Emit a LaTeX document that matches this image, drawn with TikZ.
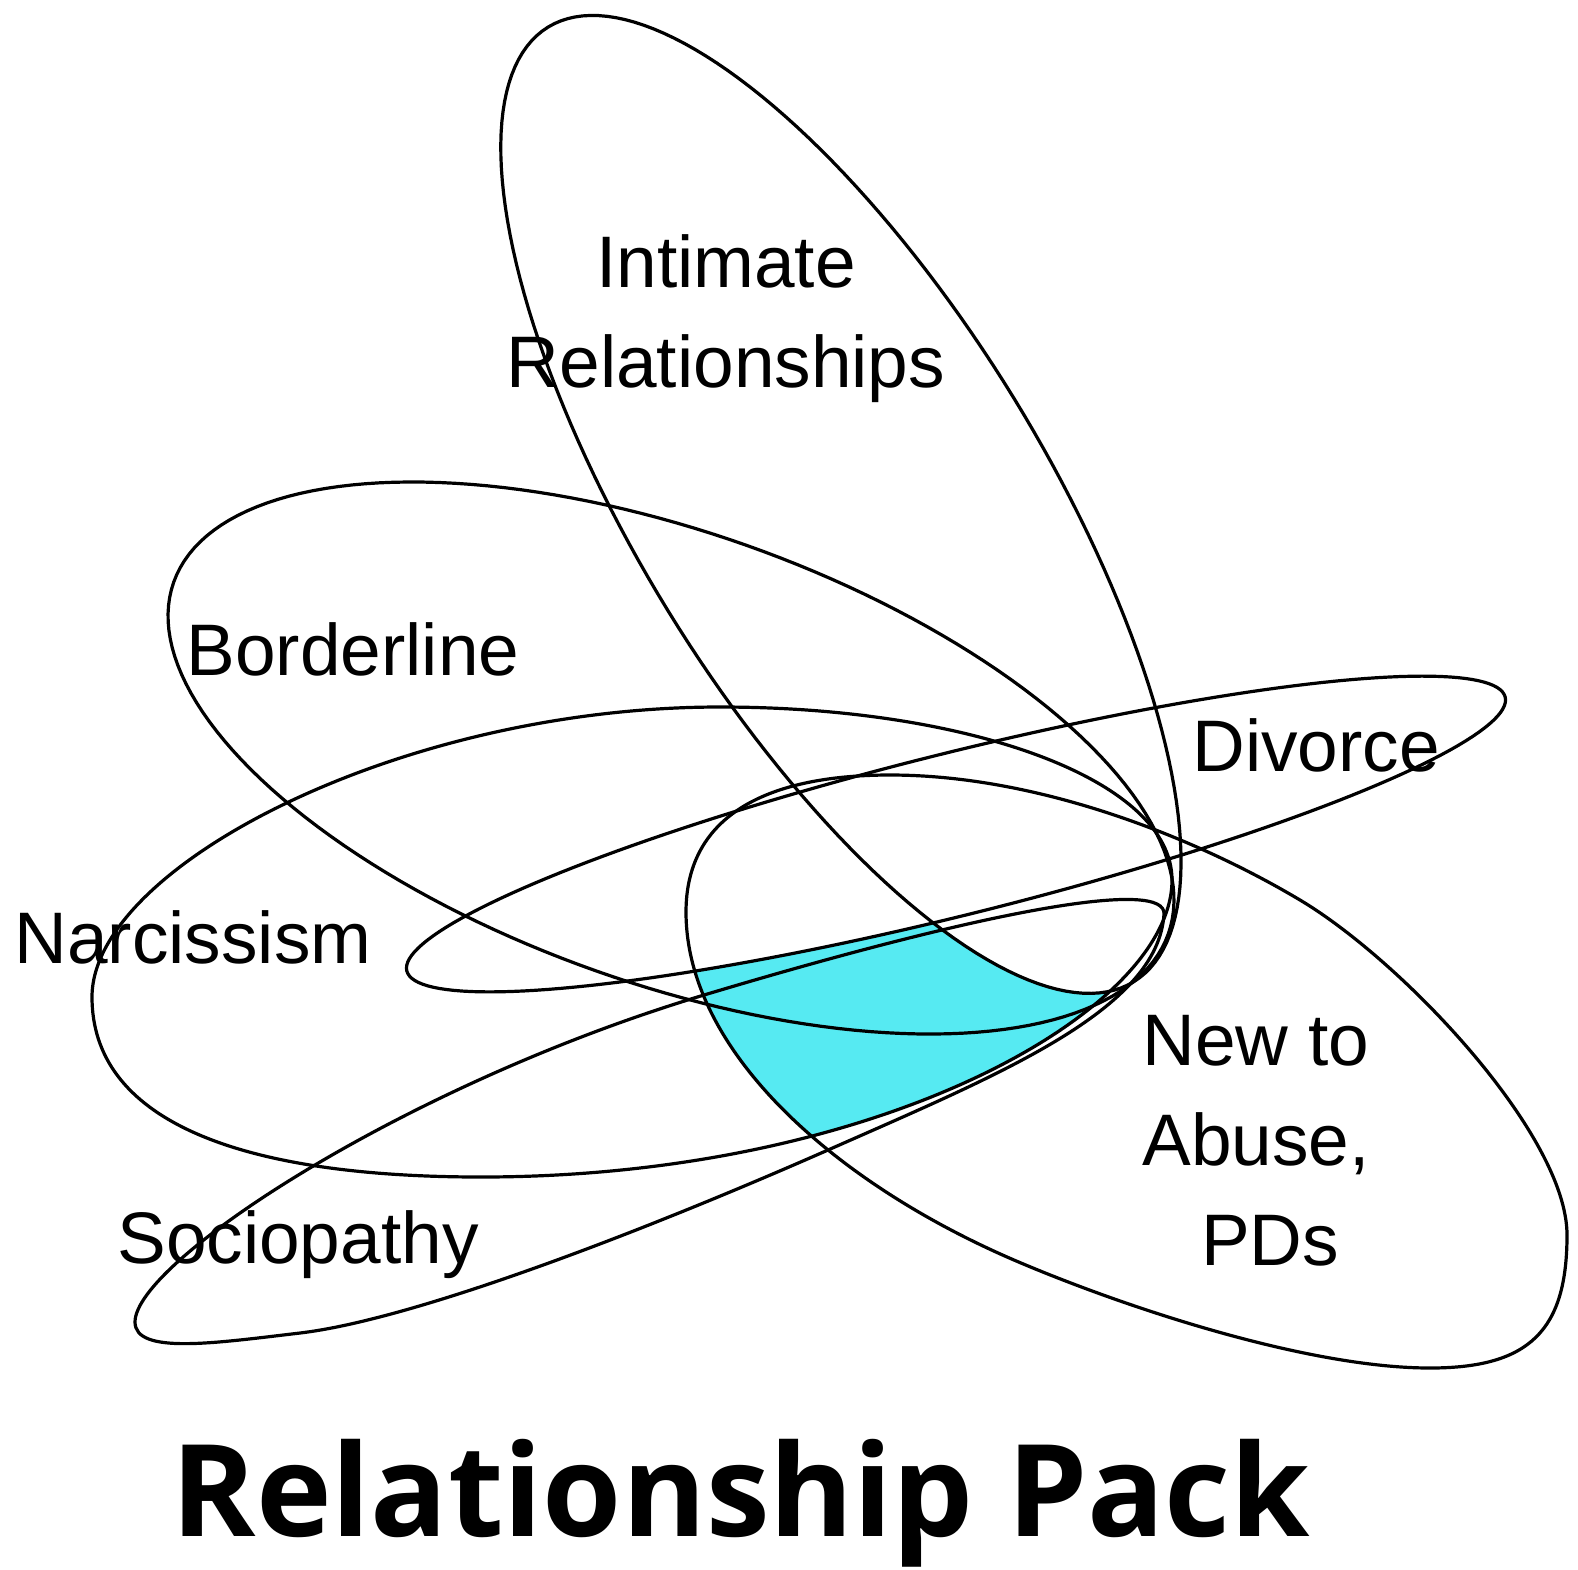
\documentclass[tikz,border=0pt]{standalone}
\usepackage{fontspec}
\newfontfamily\lab{Liberation Sans}
\newfontfamily\ttl{Open Sans}
\definecolor{cyanfill}{RGB}{86,234,242}
% rotated ellipse: cx, cy, a, b, angle (image coords, y down)
\newcommand{\ellp}[5]{plot[domain=0:360,samples=181,variable=\t]({#1+#3*cos(\t)*cos(#5)-#4*sin(\t)*sin(#5)},{#2+#3*cos(\t)*sin(#5)+#4*sin(\t)*cos(#5)}) -- cycle}
% same ellipse traced the other way (used to cut holes)
\newcommand{\ellr}[5]{plot[domain=360:0,samples=181,variable=\t]({#1+#3*cos(\t)*cos(#5)-#4*sin(\t)*sin(#5)},{#2+#3*cos(\t)*sin(#5)+#4*sin(\t)*cos(#5)}) -- cycle}
\def\pI{\ellp{840.9}{504.4}{560}{203}{58.47}}
\def\pB{\ellp{671}{758}{527.5}{225.7}{19.47}}
\def\pD{\ellp{956}{834}{566}{81}{-14}}
\def\pN{(92,997) .. controls (92,867) and (400,707) .. (720,707) .. controls (970,707) and (1172,780) .. (1172,880) .. controls (1172,1010) and (881,1177) .. (481,1177) .. controls (231,1177) and (92,1117) .. (92,997) -- cycle}
\def\pS{(135,1322) .. controls (135,1262) and (404,1085) .. (704,995) .. controls (1004,905) and (1166,880) .. (1164,914) .. controls (1158,1010) and (1000,1074) .. (828,1150) .. controls (628,1238) and (410,1320) .. (300,1333) .. controls (215,1343) and (135,1355) .. (135,1322) -- cycle}
\def\pA{(686,912) .. controls (686,820) and (760,775) .. (890,775) .. controls (1040,775) and (1197,838.6) .. (1300,900) .. controls (1403,961.4) and (1567,1135) .. (1567,1235) .. controls (1567,1330) and (1530,1368) .. (1430,1368) .. controls (1310,1368) and (1131.5,1309.6) .. (1021,1263) .. controls (836.8,1185.4) and (686,1052) .. (686,912) -- cycle}
\def\frame{(0,0) -- (1578,0) -- (1578,1569) -- (0,1569) -- cycle}
\begin{document}
\begin{tikzpicture}[x=0.5pt,y=-0.5pt,
  outl/.style={line width=1.6pt, draw=black},
  lbl/.style={font=\lab\fontsize{36.5}{50}\selectfont, inner sep=0pt, align=center}]
\useasboundingbox (0,0) rectangle (1578,1569);
\fill[white] (0,0) rectangle (1578,1569);
\begin{scope}
  \clip (650,900) -- (1180,800) -- (1180,1200) -- (650,1200) -- cycle;
  \clip \frame \ellr{956}{834}{566}{81}{-14};
  \clip \frame \ellr{840.9}{504.4}{560}{203}{58.47};
  \clip \pA;
  \clip \pN;
  \fill[cyanfill] (600,700) rectangle (1200,1250);
\end{scope}
\draw[outl] \pI;
\draw[outl] \pB;
\draw[outl] \pN;
\draw[outl] \pD;
\draw[outl] \pS;
\draw[outl] \pA;
\node[lbl, anchor=base] (intimate) at (726,387) {Intimate\\Relationships};
\node[lbl, anchor=base] (border) at (353,675) {Borderline};
\node[lbl, anchor=base] (divorce) at (1316,771) {Divorce};
\node[lbl, anchor=base] (narc) at (193,963) {Narcissism};
\node[lbl, anchor=base] (socio) at (298,1263) {Sociopathy};
\node[lbl, anchor=base] (newab) at (1256,1265) {New to\\Abuse,\\\hspace*{14pt}PDs};
\node[anchor=base, inner sep=0pt, font=\ttl\bfseries\fontsize{64}{70}\selectfont] (title) at (741,1536) {Relationship Pack};
\end{tikzpicture}
\end{document}
